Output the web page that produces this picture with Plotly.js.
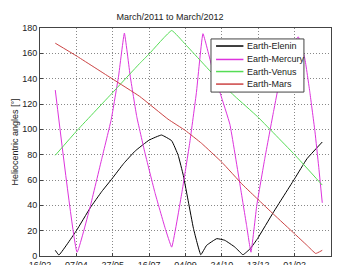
<!DOCTYPE html>
<html>
<head>
<meta charset="utf-8">
<script src="https://cdn.plot.ly/plotly-3.0.1.min.js"></script>
<style>html,body{margin:0;padding:0;background:#fff;}#chart{width:340px;height:265px;}</style>
</head>
<body>
<div id="chart"></div>
<script>
// Earth-Elenin
var eleninDates = ['2011-03-09','2011-03-14','2011-04-07','2011-04-26','2011-05-12','2011-05-26','2011-06-11','2011-06-27','2011-07-16','2011-08-02','2011-08-16','2011-08-25','2011-09-01','2011-09-08','2011-09-15','2011-09-25','2011-10-03','2011-10-17','2011-10-28','2011-11-11','2011-11-22','2011-12-02','2011-12-12','2012-01-03','2012-02-01','2012-02-18','2012-03-10'];
var eleninVals  = [4.5, 0.8, 20, 38, 51, 61, 73, 83, 91.5, 95.5, 91, 79.4, 63.6, 42.6, 21.6, 1, 8.4, 13.7, 12.4, 7, 1, 5.8, 13.7, 34.7, 61, 76.8, 90];

// Earth-Mercury
var mercuryDates = ['2011-03-09','2011-04-08','2011-04-26','2011-05-12','2011-05-25','2011-06-04','2011-06-12','2011-06-20','2011-06-29','2011-07-10','2011-07-24','2011-08-07','2011-08-16','2011-08-30','2011-09-10','2011-09-19','2011-09-28','2011-10-10','2011-10-22','2011-11-04','2011-11-18','2011-11-27','2011-12-03','2011-12-11','2011-12-22','2012-01-03','2012-01-12','2012-01-27','2012-02-06','2012-02-15','2012-02-22','2012-02-29','2012-03-05','2012-03-10'];
var mercuryVals  = [131, 3, 39, 77, 108, 142, 176, 142, 110, 82, 50, 22, 7, 50, 90, 129, 175.5, 150, 128, 104, 56, 24, 3, 40, 77, 114, 140, 165, 173, 156, 129, 98, 71, 42];

// Earth-Venus
var venusDates = ['2011-03-09','2011-04-07','2011-05-26','2011-07-03','2011-07-16','2011-08-16','2011-09-04','2011-10-24','2011-11-11','2011-12-12','2012-02-01','2012-03-10'];
var venusVals  = [79.5, 98.5, 128.5, 152, 159.5, 178, 167, 136, 126, 110, 80, 56];

// Earth-Mars
var marsDates = ['2011-03-09','2011-04-07','2011-05-26','2011-07-03','2011-08-11','2011-09-04','2011-09-26','2011-10-24','2011-11-22','2011-12-12','2012-01-03','2012-02-01','2012-02-18','2012-03-01','2012-03-10'];
var marsVals  = [168, 158, 140, 126, 108, 99, 89, 74, 56, 45, 33, 17.5, 8.4, 2, 4.5];

var seriesNames = ['Earth-Elenin', 'Earth-Mercury', 'Earth-Venus', 'Earth-Mars'];
var yTicks = [0, 20, 40, 60, 80, 100, 120, 140, 160, 180];

var colors = ['#000000', '#dd33dd', '#55dd55', '#cc4444'];
var xs = [eleninDates, mercuryDates, venusDates, marsDates];
var ys = [eleninVals, mercuryVals, venusVals, marsVals];

var traces = seriesNames.map(function (n, i) {
  return {x: xs[i], y: ys[i], name: n, type: 'scatter', mode: 'lines', showlegend: false,
          line: {color: colors[i], width: 1, shape: 'spline', smoothing: 0.3}};
});

var font = {family: 'Liberation Sans, Arial, sans-serif', size: 9, color: '#222'};

// compact legend box (MATLAB style)
var lg = {x0: 0.5876, x1: 0.907, y0: 0.719, y1: 0.952, lineX0: 0.605, lineX1: 0.699, textX: 0.704,
          rows: [0.921, 0.862, 0.809, 0.754]};
var shapes = [{type: 'rect', xref: 'paper', yref: 'paper', x0: lg.x0, x1: lg.x1, y0: lg.y0, y1: lg.y1,
               line: {color: '#444', width: 1}, fillcolor: '#ffffff', layer: 'above'}];
var annotations = [];
seriesNames.forEach(function (n, i) {
  shapes.push({type: 'line', xref: 'paper', yref: 'paper', x0: lg.lineX0, x1: lg.lineX1,
               y0: lg.rows[i], y1: lg.rows[i], line: {color: colors[i], width: 1.5}, layer: 'above'});
  annotations.push({xref: 'paper', yref: 'paper', x: lg.textX, y: lg.rows[i], xanchor: 'left',
                    yanchor: 'middle', text: n, showarrow: false, font: font});
});

var layout = {
  width: 340, height: 265,
  margin: {l: 40, r: 9, t: 28, b: 9},
  paper_bgcolor: '#ffffff', plot_bgcolor: '#ffffff',
  font: font,
  showlegend: false,
  shapes: shapes,
  annotations: annotations,
  title: {text: 'March/2011 to March/2012', font: {family: font.family, size: 9, color: '#222'},
          x: 0.5, xanchor: 'center', y: 1 - 17/265, yanchor: 'middle'},
  xaxis: {
    type: 'date', range: ['2011-02-16', '2012-03-22'],
    tick0: '2011-02-16', dtick: 50 * 86400000, tickformat: '%d/%m',
    showgrid: true, gridcolor: '#888', griddash: '1px,2px', gridwidth: 1,
    showline: true, linecolor: '#444', linewidth: 1, mirror: true,
    ticks: 'inside', ticklen: 3, tickcolor: '#444',
    zeroline: false, tickfont: font, automargin: false
  },
  yaxis: {
    range: [0, 180], tickvals: yTicks,
    showgrid: true, gridcolor: '#888', griddash: '1px,2px', gridwidth: 1,
    showline: true, linecolor: '#444', linewidth: 1, mirror: true,
    ticks: 'inside', ticklen: 3, tickcolor: '#444',
    zeroline: false, tickfont: font, automargin: false,
    title: {text: 'Heliocentric angles [°]', font: font, standoff: 2}
  }
};

Plotly.newPlot('chart', traces, layout, {staticPlot: true, displayModeBar: false});
</script>
</body>
</html>
